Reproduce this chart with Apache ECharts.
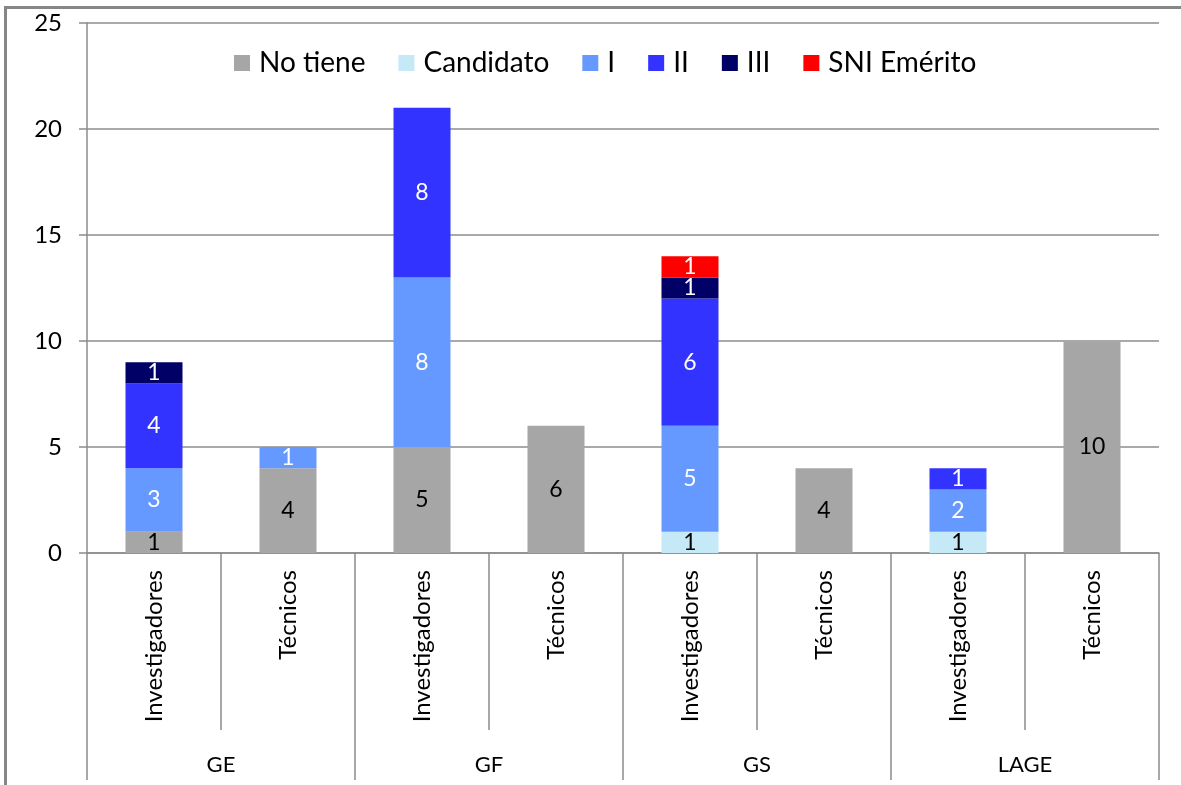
<!DOCTYPE html>
<html>
<head>
<meta charset="utf-8">
<script src="https://cdn.jsdelivr.net/npm/echarts@6/dist/echarts.min.js"></script>
<style>
  html, body { margin: 0; padding: 0; background: #fff; }
  #chart { width: 1181px; height: 785px; }
</style>
</head>
<body>
<div id="chart"></div>
<script>
const categories = ['Investigadores', 'Técnicos', 'Investigadores', 'Técnicos', 'Investigadores', 'Técnicos', 'Investigadores', 'Técnicos']
const groups = ['GE', 'GF', 'GS', 'LAGE']
const noTiene = [1, 4, 5, 6, 0, 4, 0, 10]
const candidato = [0, 0, 0, 0, 1, 0, 1, 0]
const nivelI = [3, 1, 8, 0, 5, 0, 2, 0]
const nivelII = [4, 0, 8, 0, 6, 0, 1, 0]
const nivelIII = [1, 0, 0, 0, 1, 0, 0, 0]
const emerito = [0, 0, 0, 0, 1, 0, 0, 0]

const FONT = 'Lato, "Open Sans", sans-serif'
const GRAY = '#8c8c8c'

function makeSeries(name, data, color, labelColor) {
  return {
    name: name,
    type: 'bar',
    stack: 'total',
    barWidth: 57,
    xAxisIndex: 0,
    itemStyle: { color: color },
    label: {
      show: true,
      position: 'inside',
      color: labelColor,
      fontFamily: FONT,
      fontSize: 23,
      formatter: p => (p.value ? p.value : '')
    },
    data: data
  }
}

const chart = echarts.init(document.getElementById('chart'))
chart.setOption({
  backgroundColor: '#fff',
  animation: false,
  graphic: [{
    type: 'rect',
    shape: { x: 5.5, y: 7.5, width: 1400, height: 1000 },
    style: { fill: 'none', stroke: '#868686', lineWidth: 3 },
    silent: true
  }],
  legend: {
    top: 44,
    left: 229,
    itemWidth: 16,
    itemHeight: 16,
    itemGap: 33,
    icon: 'rect',
    textStyle: { fontFamily: FONT, fontSize: 28, color: '#000', padding: [0, 0, 0, 4] },
    data: ['No tiene', 'Candidato', 'I', 'II', 'III', 'SNI Emérito']
  },
  grid: { left: 87, right: 22, top: 23, bottom: 232, containLabel: false },
  xAxis: [{
    type: 'category',
    position: 'bottom',
    data: categories,
    axisLine: { show: true, lineStyle: { color: GRAY, width: 1.5 } },
    axisTick: { show: true, interval: 0, length: 177, lineStyle: { color: GRAY, width: 1.5 } },
    axisLabel: {
      interval: 0,
      rotate: 90,
      margin: 17,
      fontFamily: FONT,
      fontSize: 24,
      color: '#000'
    }
  }, {
    type: 'category',
    position: 'bottom',
    data: groups,
    axisLine: { show: false },
    axisTick: { show: true, interval: 0, length: 227, lineStyle: { color: GRAY, width: 1.5 } },
    axisLabel: {
      interval: 0,
      margin: 201,
      fontFamily: FONT,
      fontSize: 22,
      color: '#000'
    }
  }],
  yAxis: {
    type: 'value',
    min: 0,
    max: 25,
    interval: 5,
    axisLine: { show: true, lineStyle: { color: GRAY, width: 1.5 } },
    axisTick: { show: true, length: 8, lineStyle: { color: GRAY, width: 1.5 } },
    axisLabel: { margin: 25, fontFamily: FONT, fontSize: 24, color: '#000' },
    splitLine: { lineStyle: { color: GRAY, width: 1.5 } }
  },
  series: [
    makeSeries('No tiene', noTiene, '#a6a6a6', '#000'),
    makeSeries('Candidato', candidato, '#c6e9f8', '#000'),
    makeSeries('I', nivelI, '#6699ff', '#fff'),
    makeSeries('II', nivelII, '#3333ff', '#fff'),
    makeSeries('III', nivelIII, '#000066', '#fff'),
    makeSeries('SNI Emérito', emerito, '#ff0000', '#fff')
  ]
})
</script>
</body>
</html>
